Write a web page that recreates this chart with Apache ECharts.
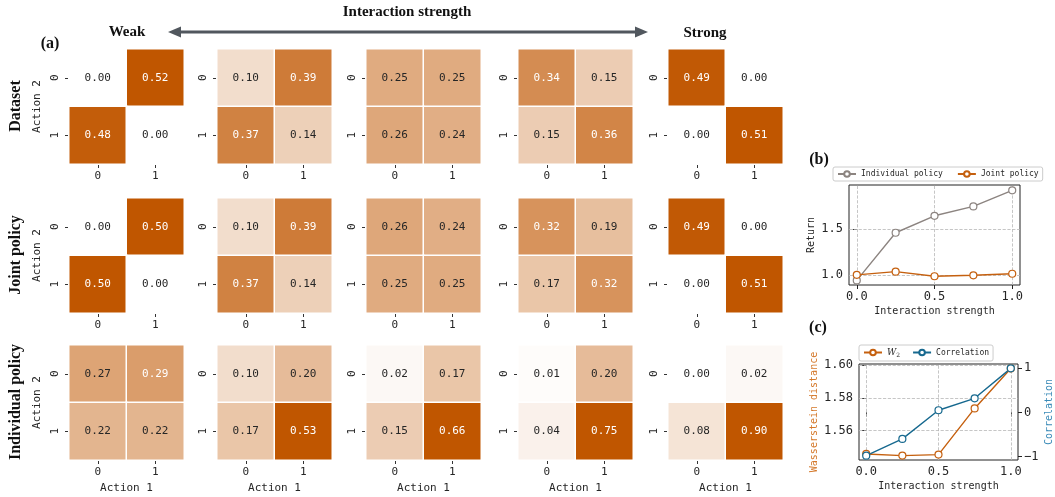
<!DOCTYPE html>
<html><head><meta charset="utf-8">
<script src="https://cdn.jsdelivr.net/npm/echarts@6/dist/echarts.min.js"></script>
<style>html,body{margin:0;padding:0;background:#fff}#c{width:1055px;height:497px}</style>
</head><body><div id="c"></div>
<script>
// ---------- data ----------
const actions = ['0', '1'];
const rowTitles = ['Dataset', 'Joint policy', 'Individual policy'];
// each matrix: [row Action2=0, row Action2=1], columns Action1 = 0,1
const datasetProbs = [
  [[0.00, 0.52], [0.48, 0.00]],
  [[0.10, 0.39], [0.37, 0.14]],
  [[0.25, 0.25], [0.26, 0.24]],
  [[0.34, 0.15], [0.15, 0.36]],
  [[0.49, 0.00], [0.00, 0.51]]
];
const jointProbs = [
  [[0.00, 0.50], [0.50, 0.00]],
  [[0.10, 0.39], [0.37, 0.14]],
  [[0.26, 0.24], [0.25, 0.25]],
  [[0.32, 0.19], [0.17, 0.32]],
  [[0.49, 0.00], [0.00, 0.51]]
];
const individualProbs = [
  [[0.27, 0.29], [0.22, 0.22]],
  [[0.10, 0.20], [0.17, 0.53]],
  [[0.02, 0.17], [0.15, 0.66]],
  [[0.01, 0.20], [0.04, 0.75]],
  [[0.00, 0.02], [0.08, 0.90]]
];
const strength = [0, 0.25, 0.5, 0.75, 1.0];
const returnIndividual = [0.94, 1.457, 1.641, 1.743, 1.917];
const returnJoint = [1.00, 1.035, 0.985, 0.995, 1.012];
const w2Distance = [1.5456, 1.5446, 1.5452, 1.5735, 1.598];
const correlation = [-0.98, -0.60, 0.05, 0.32, 1.00];
const strengthTicks = [0, 0.5, 1.0];
const returnTicks = [1.0, 1.5];
const w2Ticks = [1.56, 1.58, 1.60];
const corrTicks = [-1, 0, 1];

// ---------- layout / style ----------
const MONO = 'DejaVu Sans Mono';
const SERIF = 'Liberation Serif';
const colLeft = [69, 217, 366, 518, 668];
const rowTop = [49, 198, 345];
const cell = 115;
const DARK = '#c05600';
const TXT = '#262626';
const cGray = '#8c8480', cOrange = '#c5600f', cBlue = '#17698f';

const rows = [datasetProbs, jointProbs, individualProbs];
const grid = [], xAxis = [], yAxis = [], series = [];
const heatIdx = [];

rows.forEach((mats, r) => {
  mats.forEach((m, c) => {
    const gi = grid.length;
    grid.push({ left: colLeft[c], top: rowTop[r], width: cell, height: cell, containLabel: false });
    xAxis.push({
      type: 'category', gridIndex: gi, data: actions,
      axisLine: { show: false },
      axisTick: { show: true, alignWithLabel: true, length: 4, lineStyle: { color: '#333' } },
      axisLabel: { interval: 0, fontFamily: MONO, fontSize: 11, color: TXT, margin: 7 },
      splitLine: { show: false },
      name: r === 2 ? 'Action 1' : '', nameLocation: 'middle', nameGap: 23,
      nameTextStyle: { fontFamily: MONO, fontSize: 11, color: TXT }
    });
    yAxis.push({
      type: 'category', gridIndex: gi, data: actions, inverse: true,
      axisLine: { show: false },
      axisTick: { show: true, alignWithLabel: true, length: 4, lineStyle: { color: '#333' } },
      axisLabel: { interval: 0, rotate: 90, fontFamily: MONO, fontSize: 11, color: TXT, margin: 8 },
      splitLine: { show: false },
      name: c === 0 ? 'Action 2' : '', nameLocation: 'middle', nameGap: 26, nameRotate: 90,
      nameTextStyle: { fontFamily: MONO, fontSize: 11, color: TXT }
    });
    const data = [];
    m.forEach((rowVals, i) => rowVals.forEach((v, j) => {
      data.push({ value: [j, i, v], label: { color: v >= 0.28 ? '#ffffff' : TXT } });
    }));
    heatIdx.push(series.length);
    series.push({
      type: 'heatmap', xAxisIndex: gi, yAxisIndex: gi, data,
      itemStyle: { borderColor: '#ffffff', borderWidth: 1.5 },
      label: { show: true, fontFamily: MONO, fontSize: 11, formatter: p => p.value[2].toFixed(2) },
      emphasis: { disabled: true }
    });
  });
});

// panel (b)
const gB = grid.length;
grid.push({ left: 849, top: 185, width: 171, height: 100, show: true, borderColor: '#222', borderWidth: 1, backgroundColor: 'transparent' });
xAxis.push({
  type: 'value', gridIndex: gB, min: -0.05, max: 1.05,
  axisLine: { show: false }, splitLine: { show: false },
  axisTick: { show: true, customValues: strengthTicks, length: 4, lineStyle: { color: '#222' } },
  axisLabel: { customValues: strengthTicks, formatter: v => v.toFixed(1), fontFamily: MONO, fontSize: 12, color: TXT, margin: 6 },
  name: 'Interaction strength', nameLocation: 'middle', nameGap: 21,
  nameTextStyle: { fontFamily: MONO, fontSize: 10, color: TXT }
});
yAxis.push({
  type: 'value', gridIndex: gB, min: 0.89, max: 1.975,
  axisLine: { show: false }, splitLine: { show: false },
  axisTick: { show: true, customValues: returnTicks, length: 4, lineStyle: { color: '#222' } },
  axisLabel: { customValues: returnTicks, formatter: v => v.toFixed(1), fontFamily: MONO, fontSize: 12, color: TXT, margin: 6 },
  name: 'Return', nameLocation: 'middle', nameGap: 33, nameRotate: 90,
  nameTextStyle: { fontFamily: MONO, fontSize: 10, color: TXT }
});
const gridLine = { type: 'dashed', color: '#b8b8b8', width: 0.8 };
function lineSeries(name, xi, yi, ys, color, extra) {
  return Object.assign({
    type: 'line', name, xAxisIndex: xi, yAxisIndex: yi,
    data: strength.map((x, k) => [x, ys[k]]),
    symbol: 'circle', symbolSize: 7,
    lineStyle: { color, width: 1.4 },
    itemStyle: { color: '#ffffff', borderColor: color, borderWidth: 1.2 },
    emphasis: { disabled: true }
  }, extra || {});
}
series.push(lineSeries('Individual policy', xAxis.length - 1, yAxis.length - 1, returnIndividual, cGray, {
  markLine: {
    silent: true, symbol: ['none', 'none'], label: { show: false }, lineStyle: gridLine, z: 1,
    data: strengthTicks.map(v => ({ xAxis: v })).concat(returnTicks.map(v => ({ yAxis: v })))
  }
}));
series.push(lineSeries('Joint policy', xAxis.length - 1, yAxis.length - 1, returnJoint, cOrange));

// panel (c)
const gC = grid.length;
grid.push({ left: 859, top: 364, width: 162, height: 96, show: true, borderColor: '#222', borderWidth: 1, backgroundColor: 'transparent' });
const xC = xAxis.length;
xAxis.push({
  type: 'value', gridIndex: gC, min: -0.05, max: 1.05,
  axisLine: { show: false }, splitLine: { show: false },
  axisTick: { show: true, customValues: strengthTicks, length: 4, lineStyle: { color: '#222' } },
  axisLabel: { customValues: strengthTicks, formatter: v => v.toFixed(1), fontFamily: MONO, fontSize: 12, color: TXT, margin: 6 },
  name: 'Interaction strength', nameLocation: 'middle', nameGap: 21,
  nameTextStyle: { fontFamily: MONO, fontSize: 10, color: TXT }
});
const yCL = yAxis.length;
yAxis.push({
  type: 'value', gridIndex: gC, min: 1.5419, max: 1.6007, position: 'left',
  axisLine: { show: false }, splitLine: { show: false },
  axisTick: { show: true, customValues: w2Ticks, length: 4, lineStyle: { color: '#222' } },
  axisLabel: { customValues: w2Ticks, formatter: v => v.toFixed(2), fontFamily: MONO, fontSize: 12, color: TXT, margin: 6 },
  name: 'Wasserstein distance', nameLocation: 'middle', nameGap: 40, nameRotate: 90,
  nameTextStyle: { fontFamily: MONO, fontSize: 10, color: '#d4782a' }
});
const yCR = yAxis.length;
yAxis.push({
  type: 'value', gridIndex: gC, min: -1.079, max: 1.099, position: 'right',
  axisLine: { show: false }, splitLine: { show: false },
  axisTick: { show: true, customValues: corrTicks, length: 4, lineStyle: { color: '#222' } },
  axisLabel: { customValues: corrTicks, formatter: v => (v < 0 ? '\u2212' + Math.abs(v) : String(v)), fontFamily: MONO, fontSize: 12, color: TXT, margin: 6 },
  name: 'Correlation', nameLocation: 'middle', nameGap: 26, nameRotate: 90,
  nameTextStyle: { fontFamily: MONO, fontSize: 10, color: '#3b8bb8' }
});
series.push(lineSeries('W2', xC, yCL, w2Distance, cOrange, {
  markLine: {
    silent: true, symbol: ['none', 'none'], label: { show: false }, lineStyle: gridLine, z: 1,
    data: strengthTicks.map(v => ({ xAxis: v })).concat(w2Ticks.map(v => ({ yAxis: v })))
  }
}));
series.push(lineSeries('Correlation', xC, yCR, correlation, cBlue));

// ---------- decorations ----------
const AR = '#51575e';
function txt(text, x, y, size, rot, extra) {
  return {
    type: 'text', x, y, rotation: rot || 0, silent: true,
    style: Object.assign({
      text, font: `bold ${size}px "${SERIF}"`, fill: '#111',
      align: 'center', verticalAlign: 'middle', textAlign: 'center', textVerticalAlign: 'middle'
    }, extra || {})
  };
}
const graphic = [
  { type: 'line', silent: true, shape: { x1: 178, y1: 32, x2: 638, y2: 32 }, style: { stroke: AR, lineWidth: 3 } },
  { type: 'polygon', silent: true, shape: { points: [[168, 32], [181, 26.5], [181, 37.5]] }, style: { fill: AR } },
  { type: 'polygon', silent: true, shape: { points: [[648, 32], [635, 26.5], [635, 37.5]] }, style: { fill: AR } },
  txt('Interaction strength', 407, 12, 15),
  txt('Weak', 127, 32, 15),
  txt('Strong', 705, 33, 15),
  txt('(a)', 50, 44, 16),
  txt('(b)', 819, 160, 16),
  txt('(c)', 818, 328, 16),
  txt(rowTitles[0], 16, 106, 16, Math.PI / 2),
  txt(rowTitles[1], 16, 255, 16, Math.PI / 2),
  txt(rowTitles[2], 16, 402, 16, Math.PI / 2)
];

const legendBase = {
  orient: 'horizontal', itemWidth: 18, itemHeight: 7, padding: [3, 4],
  borderColor: '#cccccc', borderWidth: 1, borderRadius: 2, backgroundColor: '#fff',
  textStyle: { fontFamily: MONO, fontSize: 8, color: TXT }
};

const option = {
  animation: false,
  backgroundColor: '#ffffff',
  grid, xAxis, yAxis, series, graphic,
  visualMap: {
    type: 'continuous', show: false, min: 0, max: 1, seriesIndex: heatIdx, dimension: 2,
    inRange: { color: ['#ffffff', DARK, DARK] }
  },
  legend: [
    Object.assign({}, legendBase, { left: 833, top: 167, itemGap: 14, data: ['Individual policy', 'Joint policy'] }),
    Object.assign({}, legendBase, {
      left: 859, top: 345, itemGap: 12, data: ['W2', 'Correlation'],
      formatter: n => n === 'W2' ? '{w|W}{s|2}' : n,
      textStyle: {
        fontFamily: MONO, fontSize: 8, color: TXT,
        rich: {
          w: { fontFamily: 'DejaVu Serif', fontStyle: 'italic', fontSize: 9, color: TXT },
          s: { fontFamily: 'DejaVu Serif', fontSize: 6, color: TXT, padding: [5, 0, 0, 0] }
        }
      }
    })
  ]
};
const chart = echarts.init(document.getElementById('c'), null, { renderer: 'canvas' });
chart.setOption(option);
</script></body></html>
